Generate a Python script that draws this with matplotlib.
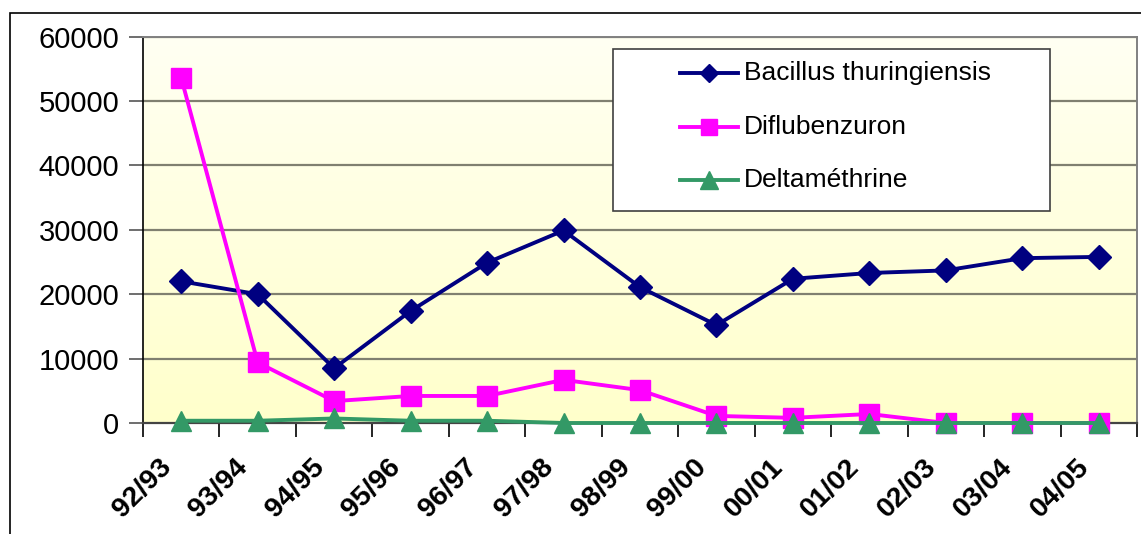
import numpy as np
import matplotlib
matplotlib.use("Agg")
import matplotlib.pyplot as plt
import matplotlib.transforms as mtransforms
from matplotlib.patches import Rectangle
from matplotlib.lines import Line2D

plt.rcParams['font.family'] = ['Liberation Sans', 'DejaVu Sans']

seasons = ["92/93", "93/94", "94/95", "95/96", "96/97", "97/98", "98/99",
           "99/00", "00/01", "01/02", "02/03", "03/04", "04/05"]
bacillus = [22000, 20000, 8500, 17400, 24900, 29900, 21100, 15200, 22400,
            23300, 23700, 25600, 25800]
diflubenzuron = [53600, 9400, 3400, 4200, 4200, 6700, 5100, 1100, 800,
                 1400, 0, 0, 0]
deltamethrine = [350, 350, 700, 350, 350, 0, 0, 0, 0, 0, 0, 0, 0]
yticks = [0, 10000, 20000, 30000, 40000, 50000, 60000]
series_names = ["Bacillus thuringiensis", "Diflubenzuron", "Deltaméthrine"]

W, H = 1141, 534
fig = plt.figure(figsize=(W / 100, H / 100), dpi=100)


def fx(px):
    return px / W


def fy(py):
    return 1 - py / H


# outer chart frame
fig.patches.append(Rectangle((fx(10), -0.01), 1.02, fy(13) + 0.01,
                             transform=fig.transFigure, fill=False,
                             edgecolor='black', linewidth=1.2, zorder=0))

ax = fig.add_axes([fx(143), fy(423), fx(1137 - 143), (423 - 36.7) / H])
n = len(seasons)
x = np.arange(n)
ax.set_xlim(-0.5, n - 0.5)
ax.set_ylim(0, 60000)

# pale yellow gradient of the plot area
grad = np.linspace(0, 1, 256).reshape(-1, 1)
top = np.array([255, 255, 243]) / 255
bot = np.array([255, 255, 203]) / 255
img = top + (bot - top) * grad[:, :, None] * np.ones((1, 2, 1))
ax.imshow(img, extent=[-0.5, n - 0.5, 0, 60000], aspect='auto', zorder=0,
          origin='upper')

for yv in yticks[1:]:
    ax.axhline(yv, color='#808070', linewidth=1.6, zorder=1)

styles = [
    dict(color='#000080', marker='D', markersize=12.5),
    dict(color='#FF00FF', marker='s', markersize=14),
    dict(color='#339966', marker='^', markersize=15),
]
for vals, st, z in zip([bacillus, diflubenzuron, deltamethrine], styles,
                       [3, 4, 5]):
    ax.plot(x, vals, linewidth=2.8, zorder=z, clip_on=False, **st)

ax.set_yticks(yticks)
ax.set_yticklabels([str(v) for v in yticks], fontsize=21)
ax.tick_params(axis='y', direction='out', length=10, width=1.2,
               color='#555555', pad=7)

ax.set_xticks(np.arange(-0.5, n, 1.0), minor=False)
ax.set_xticklabels([])
ax.tick_params(axis='x', direction='out', length=10, width=1.2, color='black')
ax.set_xticks(x, minor=True)
ax.set_xticklabels(seasons, minor=True, rotation=45, ha='right',
                   rotation_mode='anchor', fontsize=20.5, fontweight='bold')
ax.tick_params(axis='x', which='minor', length=0, pad=22)
shift = mtransforms.ScaledTranslation(-23 / 100, 0, fig.dpi_scale_trans)
for lab in ax.get_xticklabels(minor=True):
    lab.set_transform(lab.get_transform() + shift)

for side in ['top', 'right']:
    ax.spines[side].set_color('#808080')
    ax.spines[side].set_linewidth(1.4)
ax.spines['left'].set_color('black')
ax.spines['left'].set_linewidth(1.2)
ax.spines['bottom'].set_color('#444444')
ax.spines['bottom'].set_linewidth(1.6)

# legend box with line samples and names
fig.patches.append(Rectangle((fx(613), fy(211)), fx(1050 - 613), (211 - 49) / H,
                             transform=fig.transFigure, facecolor='white',
                             edgecolor='#404040', linewidth=1.2, zorder=6))
legend_sizes = [9.5, 11.5, 13]
for i, (name, st, ms) in enumerate(zip(series_names, styles, legend_sizes)):
    yy = fy(73 + 53.5 * i)
    st = dict(st, markersize=ms)
    fig.add_artist(Line2D([fx(680), fx(709), fx(738)], [yy, yy, yy],
                          transform=fig.transFigure, linewidth=2.8,
                          markevery=[1], zorder=7, **st))
    fig.text(fx(744), yy, name, fontsize=19, va='center', ha='left',
             zorder=7)

fig.savefig("out.png", dpi=100)
